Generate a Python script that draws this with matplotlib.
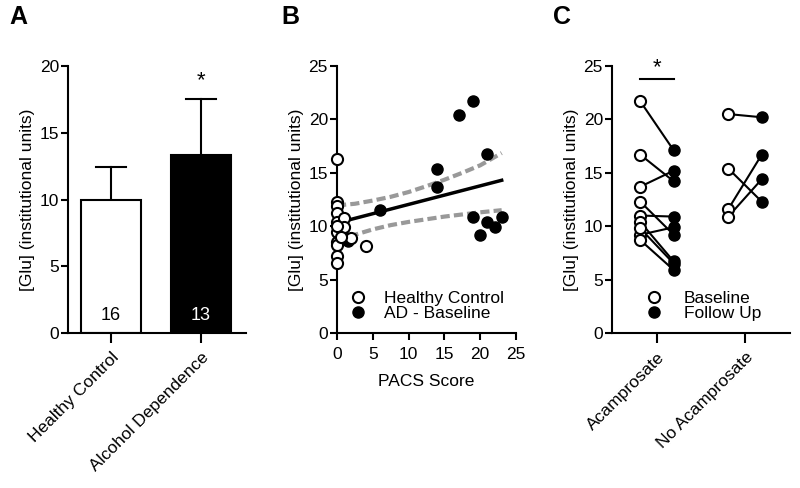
import matplotlib
matplotlib.use("Agg")
import matplotlib.pyplot as plt
from matplotlib.lines import Line2D
import numpy as np

plt.rcParams['font.family'] = ['Liberation Sans', 'DejaVu Sans']

# ---------------- data ----------------
# Panel A
groups_a = ["Healthy Control", "Alcohol Dependence"]
means_a = [10.0, 13.35]
sd_a = [2.4, 4.15]
n_a = ["16", "13"]

# Panel B
hc_pacs = [0, 0, 0, 0, 0, 0, 0, 0, 0, 0, 1, 1, 2, 4, 0.5, 0]
hc_glu = [16.3, 12.3, 11.9, 11.2, 10.4, 9.5, 8.5, 8.2, 7.2, 6.6, 10.8, 9.9, 8.9, 8.1, 9.0, 10.0]
ad_pacs = [17, 19, 14, 14, 21, 19, 21, 20, 22, 23, 6, 1, 1.5]
ad_glu = [20.4, 21.7, 15.4, 13.7, 16.8, 10.9, 10.4, 9.2, 9.9, 10.9, 11.5, 9.0, 8.6]
fit_x = [0, 23]
fit_y = [10.3, 14.3]
band_x = [0, 2.5, 5, 7.5, 10, 12.5, 15, 17.5, 20, 23]
band_upper = [11.95, 12.1, 12.4, 12.75, 13.2, 13.75, 14.35, 15.0, 15.7, 16.85]
band_lower = [8.6, 9.2, 9.7, 10.1, 10.4, 10.65, 10.9, 11.1, 11.3, 11.5]

# Panel C
groups_c = ["Acamprosate", "No Acamprosate"]
acamp_base = [21.7, 16.7, 13.7, 12.3, 11.0, 9.2, 10.4, 9.8, 8.7]
acamp_follow = [17.1, 14.2, 15.2, 9.2, 10.9, 9.9, 6.7, 6.5, 5.9]
noacamp_base = [20.5, 15.4, 11.6, 10.9]
noacamp_follow = [20.2, 12.3, 16.7, 14.4]

# ---------------- figure ----------------
W, H = 800, 488
fig = plt.figure(figsize=(W / 100, H / 100), dpi=100)

def ax_px(l, r, top, bottom):
    return fig.add_axes([l / W, 1 - bottom / H, (r - l) / W, (bottom - top) / H])

FS = 12.5
LW = 1.5
MS = 8
ylab = "[Glu] (institutional units)"

def style(ax):
    for s in ["top", "right"]:
        ax.spines[s].set_visible(False)
    for s in ["left", "bottom"]:
        ax.spines[s].set_linewidth(LW)
    ax.tick_params(width=LW, length=5, labelsize=FS, pad=1.5)

# Panel A
axA = ax_px(68, 246, 66, 333)
style(axA)
xa = np.arange(len(groups_a))
axA.bar(xa, means_a, width=0.667, color=["white", "black"], edgecolor="black",
        linewidth=LW, zorder=2)
for i in range(len(xa)):
    axA.plot([xa[i], xa[i]], [means_a[i], means_a[i] + sd_a[i]], color="black", lw=LW, zorder=1)
    axA.plot([xa[i] - 0.17, xa[i] + 0.17], [means_a[i] + sd_a[i]] * 2, color="black", lw=LW)
    axA.text(xa[i], 1.3, n_a[i], ha="center", va="center", fontsize=13,
             color="black" if i == 0 else "white")
axA.text(xa[1], 18.9, "*", ha="center", va="center", fontsize=16)
axA.set_xlim(-0.478, 1.5)
axA.set_ylim(0, 20)
axA.set_yticks([0, 5, 10, 15, 20])
axA.set_xticks(xa)
axA.set_xticklabels(groups_a, rotation=45, ha="right", rotation_mode="anchor", fontsize=FS)
axA.tick_params(axis="x", length=7, pad=5)
axA.set_ylabel(ylab, fontsize=FS, labelpad=3)

# Panel B
axB = ax_px(337, 516, 66, 333)
style(axB)
axB.plot(band_x, band_upper, color="#999999", lw=3, dashes=(2.2, 1.0), zorder=2)
axB.plot(band_x, band_lower, color="#999999", lw=3, dashes=(2.2, 1.0), zorder=2)
axB.plot(fit_x, fit_y, color="black", lw=2.5, zorder=2)
axB.plot(ad_pacs, ad_glu, "o", ms=MS, mfc="black", mec="black", zorder=3, clip_on=False)
axB.plot(hc_pacs, hc_glu, "o", ms=MS, mfc="white", mec="black", mew=1.5, zorder=4, clip_on=False)
axB.set_xlim(0, 25)
axB.set_ylim(0, 25)
axB.set_xticks([0, 5, 10, 15, 20, 25])
axB.set_yticks([0, 5, 10, 15, 20, 25])
axB.tick_params(axis="x", pad=5)
axB.set_xlabel("PACS Score", fontsize=FS, labelpad=9)
axB.set_ylabel(ylab, fontsize=FS, labelpad=3)
hB = [Line2D([], [], ls="none", marker="o", ms=MS, mfc="white", mec="black", mew=1.5),
      Line2D([], [], ls="none", marker="o", ms=MS, mfc="black", mec="black")]
axB.legend(hB, ["Healthy Control", "AD - Baseline"], loc="lower left", bbox_to_anchor=(0.0, 0.0),
           frameon=False, fontsize=FS, handlelength=1.0, handletextpad=1.0,
           labelspacing=0.0, borderaxespad=0.3)

# Panel C
axC = ax_px(612, 790, 66, 333)
style(axC)
xc = np.arange(len(groups_c))
off_b, off_f = -0.19, 0.19
for sets, xi in [((acamp_base, acamp_follow), xc[0]), ((noacamp_base, noacamp_follow), xc[1])]:
    b, f = sets
    for bv, fv in zip(b, f):
        axC.plot([xi + off_b, xi + off_f], [bv, fv], color="black", lw=LW, zorder=1)
    axC.plot([xi + off_f] * len(f), f, "o", ms=MS, mfc="black", mec="black", zorder=2)
    axC.plot([xi + off_b] * len(b), b, "o", ms=MS, mfc="white", mec="black", mew=1.5, zorder=3)
axC.plot([xc[0] + off_b, xc[0] + off_f], [23.8, 23.8], color="black", lw=LW)
axC.text(xc[0], 24.8, "*", ha="center", va="center", fontsize=16)
axC.set_xlim(-0.511, 1.511)
axC.set_ylim(0, 25)
axC.set_yticks([0, 5, 10, 15, 20, 25])
axC.set_xticks(xc)
axC.set_xticklabels(groups_c, rotation=45, ha="right", rotation_mode="anchor", fontsize=FS)
axC.tick_params(axis="x", length=7, pad=5)
axC.set_ylabel(ylab, fontsize=FS, labelpad=3)
hC = [Line2D([], [], ls="none", marker="o", ms=MS, mfc="white", mec="black", mew=1.5),
      Line2D([], [], ls="none", marker="o", ms=MS, mfc="black", mec="black")]
axC.legend(hC, ["Baseline", "Follow Up"], loc="lower left", bbox_to_anchor=(0.12, 0.0),
           frameon=False, fontsize=FS, handlelength=1.0, handletextpad=1.2,
           labelspacing=0.0, borderaxespad=0.3)

# panel letters
for lab, xp in [("A", 18), ("B", 290), ("C", 562)]:
    fig.text(xp / W, 1 - 17 / H, lab, fontsize=18, fontweight="bold", ha="center", va="center")

fig.savefig("out.png", dpi=100)
